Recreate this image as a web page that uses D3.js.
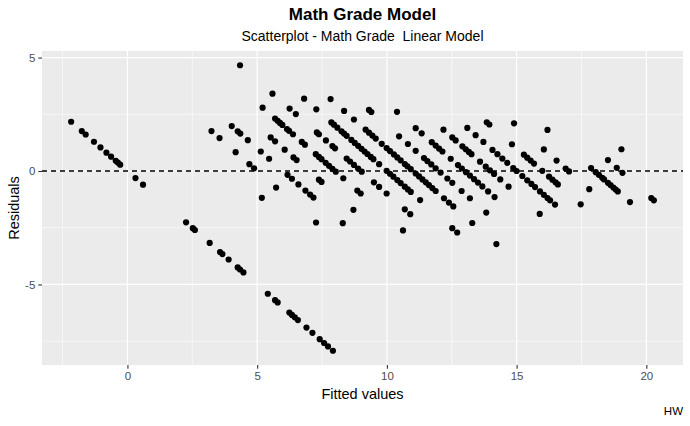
<!DOCTYPE html>
<html><head><meta charset="utf-8">
<script src="https://cdn.jsdelivr.net/npm/d3@7"></script>
<style>
html,body{margin:0;padding:0;background:#fff;}
svg{display:block;font-family:"Liberation Sans",Arial,Helvetica,sans-serif;}
</style></head>
<body>
<svg id="chart" width="690" height="426"></svg>
<script>
// Fitted values, grouped by the observed-grade diagonal they lie on
const fitted = [
  -2.17,-1.76,-1.61,-1.29,-1.04,-0.81,-0.63,-0.45,-0.37,-0.28,0.31,0.60,
  2.26,2.52,2.60,3.17,3.57,3.66,3.90,4.25,4.34,4.47,5.41,5.69,5.79,6.24,6.34,6.45,6.57,6.90,7.13,7.41,7.58,7.73,7.92,
  5.18,
  3.24,3.55,4.17,4.70,4.88,5.73,7.27,
  4.02,4.25,4.35,4.64,5.14,5.46,6.17,6.34,6.59,6.86,7.04,7.17,8.30,
  5.52,5.69,6.06,6.40,6.52,7.38,7.48,8.71,
  5.21,5.69,5.79,5.88,5.97,6.15,6.23,6.38,6.72,6.84,7.26,7.38,7.48,7.64,7.77,7.90,8.03,8.32,8.86,8.99,10.62,
  4.34,5.59,6.25,6.49,7.30,7.38,7.65,7.90,8.00,8.45,8.58,8.73,8.89,9.03,9.50,9.70,9.99,10.69,10.90,
  6.81,7.28,7.86,7.96,8.09,8.25,8.35,8.45,8.63,8.76,8.89,9.02,9.14,9.25,9.38,9.48,9.70,9.99,10.12,10.25,10.40,10.53,10.69,10.81,10.92,11.28,12.52,12.71,
  7.83,8.35,8.73,9.18,9.31,9.44,9.57,9.80,9.99,10.12,10.27,10.40,10.53,10.69,10.79,10.92,11.11,11.24,11.37,11.50,11.62,11.75,11.88,12.20,12.39,12.56,13.29,14.22,
  9.31,9.40,10.47,10.81,11.11,11.43,11.56,11.71,11.88,12.07,12.33,12.52,12.88,13.20,13.83,
  10.39,11.11,11.34,11.73,11.88,12.01,12.14,12.46,12.74,12.89,13.05,13.20,13.36,13.51,13.68,13.90,14.15,
  12.18,12.52,12.65,12.91,13.04,13.16,13.26,13.59,13.81,13.97,14.13,14.37,14.69,15.89,
  13.10,13.42,13.72,14.07,14.26,14.45,14.64,14.87,15.00,15.22,15.41,15.57,15.71,15.90,16.05,16.19,16.29,16.48,
  13.85,13.95,14.82,15.28,15.41,15.54,15.67,15.99,16.25,16.38,16.50,16.59,17.47,
  14.90,16.05,16.54,16.89,17.02,17.80,
  16.19,17.87,18.05,18.17,18.30,18.37,18.52,18.62,18.73,18.82,18.90,19.37,
  18.52,18.86,19.08,20.19,20.29,
  19.04
];
const residuals = [
  2.17,1.76,1.61,1.29,1.04,0.81,0.63,0.45,0.37,0.28,-0.31,-0.60,
  -2.26,-2.52,-2.60,-3.17,-3.57,-3.66,-3.90,-4.25,-4.34,-4.47,-5.41,-5.69,-5.79,-6.24,-6.34,-6.45,-6.57,-6.90,-7.13,-7.41,-7.58,-7.73,-7.92,
  -1.18,
  1.76,1.45,0.83,0.30,0.12,-0.73,-2.27,
  1.98,1.75,1.65,1.36,0.86,0.54,-0.17,-0.34,-0.59,-0.86,-1.04,-1.17,-2.30,
  1.48,1.31,0.94,0.60,0.48,-0.38,-0.48,-1.71,
  2.79,2.31,2.21,2.12,2.03,1.85,1.77,1.62,1.28,1.16,0.74,0.62,0.52,0.36,0.23,0.10,-0.03,-0.32,-0.86,-0.99,-2.62,
  4.66,3.41,2.75,2.51,1.70,1.62,1.35,1.10,1.00,0.55,0.42,0.27,0.11,-0.03,-0.50,-0.70,-0.99,-1.69,-1.90,
  3.19,2.72,2.14,2.04,1.91,1.75,1.65,1.55,1.37,1.24,1.11,0.98,0.86,0.75,0.62,0.52,0.30,0.01,-0.12,-0.25,-0.40,-0.53,-0.69,-0.81,-0.92,-1.28,-2.52,-2.71,
  3.17,2.65,2.27,1.82,1.69,1.56,1.43,1.20,1.01,0.88,0.73,0.60,0.47,0.31,0.21,0.08,-0.11,-0.24,-0.37,-0.50,-0.62,-0.75,-0.88,-1.20,-1.39,-1.56,-2.29,-3.22,
  2.69,2.60,1.53,1.19,0.89,0.57,0.44,0.29,0.12,-0.07,-0.33,-0.52,-0.88,-1.20,-1.83,
  2.61,1.89,1.66,1.27,1.12,0.99,0.86,0.54,0.26,0.11,-0.05,-0.20,-0.36,-0.51,-0.68,-0.90,-1.15,
  1.82,1.48,1.35,1.09,0.96,0.84,0.74,0.41,0.19,0.03,-0.13,-0.37,-0.69,-1.89,
  1.90,1.58,1.28,0.93,0.74,0.55,0.36,0.13,0.00,-0.22,-0.41,-0.57,-0.71,-0.90,-1.05,-1.19,-1.29,-1.48,
  2.15,2.05,1.18,0.72,0.59,0.46,0.33,0.01,-0.25,-0.38,-0.50,-0.59,-1.47,
  2.10,0.95,0.46,0.11,-0.02,-0.80,
  1.81,0.13,-0.05,-0.17,-0.30,-0.37,-0.52,-0.62,-0.73,-0.82,-0.90,-1.37,
  0.48,0.14,-0.08,-1.19,-1.29,
  0.96
];
const xTicks = [0, 5, 10, 15, 20];
const xMinor = [-2.5, 2.5, 7.5, 12.5, 17.5];
const yTicks = [-5, 0, 5];
const yMinor = [-7.5, -2.5, 2.5];
const refLine = [0];
const titleText = "Math Grade Model";
const subtitleText = "Scatterplot - Math Grade  Linear Model";
const xTitle = "Fitted values";
const yTitle = "Residuals";
const captionText = "HW";

const points = fitted.map((f, i) => ({ f, r: residuals[i] }));

const svg = d3.select("#chart");
const panel = { left: 42, right: 683, top: 51, bottom: 365 };

function expanded(ext) {
  const pad = (ext[1] - ext[0]) * 0.05;
  return [ext[0] - pad, ext[1] + pad];
}
const x = d3.scaleLinear().domain(expanded(d3.extent(fitted))).range([panel.left, panel.right]);
const y = d3.scaleLinear().domain(expanded(d3.extent(residuals))).range([panel.bottom, panel.top]);

svg.append("rect").attr("width", 690).attr("height", 426).attr("fill", "#fff");
svg.append("rect")
  .attr("x", panel.left).attr("y", panel.top)
  .attr("width", panel.right - panel.left).attr("height", panel.bottom - panel.top)
  .attr("fill", "#EBEBEB");

const grid = svg.append("g");
grid.selectAll(".xmin").data(xMinor.filter(v => x(v) > panel.left && x(v) < panel.right)).enter().append("line")
  .attr("x1", d => x(d)).attr("x2", d => x(d)).attr("y1", panel.top).attr("y2", panel.bottom)
  .attr("stroke", "#fff").attr("stroke-width", 0.6);
grid.selectAll(".ymin").data(yMinor).enter().append("line")
  .attr("y1", d => y(d)).attr("y2", d => y(d)).attr("x1", panel.left).attr("x2", panel.right)
  .attr("stroke", "#fff").attr("stroke-width", 0.6);
grid.selectAll(".xmaj").data(xTicks).enter().append("line")
  .attr("x1", d => x(d)).attr("x2", d => x(d)).attr("y1", panel.top).attr("y2", panel.bottom)
  .attr("stroke", "#fff").attr("stroke-width", 1.2);
grid.selectAll(".ymaj").data(yTicks).enter().append("line")
  .attr("y1", d => y(d)).attr("y2", d => y(d)).attr("x1", panel.left).attr("x2", panel.right)
  .attr("stroke", "#fff").attr("stroke-width", 1.2);

svg.append("g").selectAll("circle").data(points).enter().append("circle")
  .attr("cx", d => x(d.f)).attr("cy", d => y(d.r)).attr("r", 3.1).attr("fill", "#000");

svg.append("g").selectAll("line").data(refLine).enter().append("line")
  .attr("x1", panel.left).attr("x2", panel.right)
  .attr("y1", d => y(d)).attr("y2", d => y(d))
  .attr("stroke", "#000").attr("stroke-width", 1.3).attr("stroke-dasharray", "5,4");

// Axes
const xAxis = svg.append("g").attr("transform", `translate(0,${panel.bottom})`)
  .call(d3.axisBottom(x).tickValues(xTicks).tickSize(3.7).tickPadding(3).tickFormat(d3.format("d")));
const yAxis = svg.append("g").attr("transform", `translate(${panel.left},0)`)
  .call(d3.axisLeft(y).tickValues(yTicks).tickSize(3.7).tickPadding(3).tickFormat(d3.format("d")));
[xAxis, yAxis].forEach(a => {
  a.select(".domain").remove();
  a.selectAll(".tick line").attr("stroke", "#333333").attr("stroke-width", 1.1);
  a.selectAll(".tick text").attr("fill", "#4D4D4D").style("font-size", "11.5px")
    .style("font-family", "'Liberation Sans',Arial,Helvetica,sans-serif");
});
yAxis.selectAll(".tick text").text(d => d < 0 ? "-" + Math.abs(d) : d);

const cx = (panel.left + panel.right) / 2;
svg.append("text").attr("x", cx).attr("y", 20).attr("text-anchor", "middle")
  .style("font-size", "17px").style("font-weight", "bold").attr("fill", "#000").text(titleText);
svg.append("text").attr("x", cx).attr("y", 41).attr("text-anchor", "middle")
  .attr("xml:space", "preserve").style("white-space", "pre")
  .style("font-size", "14px").attr("fill", "#000").text(subtitleText);
svg.append("text").attr("x", cx).attr("y", 399).attr("text-anchor", "middle")
  .style("font-size", "14.5px").attr("fill", "#000").text(xTitle);
svg.append("text").attr("transform", `translate(19,${(panel.top + panel.bottom) / 2}) rotate(-90)`)
  .attr("text-anchor", "middle").style("font-size", "14.5px").attr("fill", "#000").text(yTitle);
svg.append("text").attr("x", 683).attr("y", 415).attr("text-anchor", "end")
  .style("font-size", "11.5px").attr("fill", "#000").text(captionText);
</script>
</body></html>
